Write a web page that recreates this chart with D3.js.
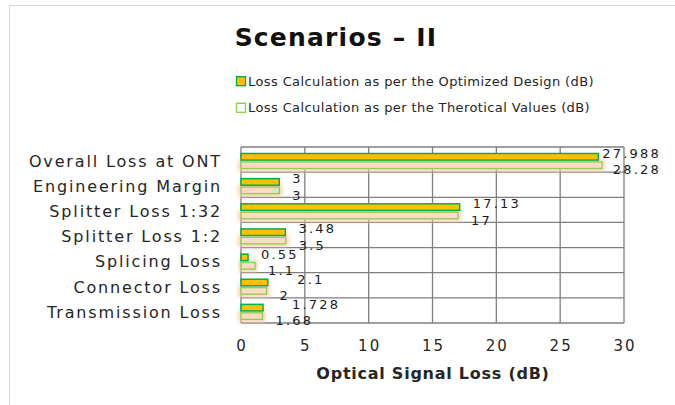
<!DOCTYPE html>
<html><head><meta charset="utf-8">
<script src="https://cdn.jsdelivr.net/npm/d3@7"></script>
<style>
html,body{margin:0;padding:0;background:#fff;}
svg{display:block;font-family:"DejaVu Sans",sans-serif;}
</style></head>
<body>
<svg id="chart" width="675" height="405"></svg>
<script>
const title = "Scenarios – II";
const categories = ["Overall Loss at ONT","Engineering Margin","Splitter Loss 1:32","Splitter Loss 1:2","Splicing Loss","Connector Loss","Transmission Loss"];
const optimized = [27.988, 3, 17.13, 3.48, 0.55, 2.1, 1.728];
const theoretical = [28.28, 3, 17, 3.5, 1.1, 2, 1.68];
const seriesNames = ["Loss Calculation as per the Optimized Design (dB)", "Loss Calculation as per the Therotical Values (dB)"];
const xTicks = [0, 5, 10, 15, 20, 25, 30];
const xTitle = "Optical Signal Loss (dB)";

const svg = d3.select("#chart");
const W = 675, H = 405;
const plot = {left: 241, right: 624, top: 147, bottom: 323};

const defs = svg.append("defs");
const glow = defs.append("filter").attr("id","glow").attr("x","-20%").attr("y","-100%").attr("width","140%").attr("height","300%");
glow.append("feMorphology").attr("in","SourceAlpha").attr("operator","dilate").attr("radius",1.5).attr("result","d");
glow.append("feGaussianBlur").attr("in","d").attr("stdDeviation",2).attr("result","b");
glow.append("feFlood").attr("flood-color","#f8c9a8").attr("flood-opacity",0.9).attr("result","c");
glow.append("feComposite").attr("in","c").attr("in2","b").attr("operator","in").attr("result","g");
const gm = glow.append("feMerge");
gm.append("feMergeNode").attr("in","g");
gm.append("feMergeNode").attr("in","SourceGraphic");

// outer frame
svg.append("path").attr("d",`M9.5,${H} L9.5,5.5 L${W},5.5`).attr("fill","none").attr("stroke","#d9d9d9").attr("stroke-width",1);

// title
svg.append("text").attr("x",336).attr("y",46).attr("text-anchor","middle")
  .attr("font-size",25).attr("font-weight","bold").attr("letter-spacing",1.2).attr("fill","#111").text(title);

// legend
const legY = [85.7, 112.3];
const legend = svg.append("g");
seriesNames.forEach((n,i)=>{
  legend.append("rect").attr("x",236.5).attr("y",legY[i]-9).attr("width",9).attr("height",9)
    .attr("fill", i===0 ? "#ffc000" : "#ffffff")
    .attr("stroke", i===0 ? "#00b050" : "#92d050").attr("stroke-width",1.4);
  legend.append("text").attr("x",248).attr("y",legY[i]).attr("font-size",13).attr("letter-spacing",0.4)
    .attr("fill","#262626").text(n);
});

const x = d3.scaleLinear().domain([0,30]).range([plot.left, plot.right]);
const y = d3.scaleBand().domain(categories).range([plot.top, plot.bottom]).paddingInner(0).paddingOuter(0);
const inner = d3.scaleBand().domain([0,1]).range([6.5, 21.5]).paddingInner(0.22);

// gridlines
const grid = svg.append("g").attr("stroke","#7f7f7f").attr("stroke-width",1.3);
grid.selectAll("line.v").data(xTicks).join("line").attr("class","v")
  .attr("x1",d=>x(d)).attr("x2",d=>x(d)).attr("y1",plot.top).attr("y2",plot.bottom);
const hb = categories.map(c=>y(c)).concat([plot.bottom]);
grid.selectAll("line.h").data(hb).join("line").attr("class","h")
  .attr("x1",plot.left).attr("x2",plot.right).attr("y1",d=>d).attr("y2",d=>d);

// bars
const rows = categories.map((c,i)=>({c, vals:[optimized[i], theoretical[i]]}));
const barG = svg.append("g");
rows.forEach(r=>{
  const g = barG.append("g").attr("transform",`translate(0,${y(r.c)})`);
  g.append("rect").attr("x",x(0)).attr("y",inner(1)).attr("width",x(r.vals[1])-x(0)).attr("height",inner.bandwidth())
    .attr("fill","#fbdcc6").attr("stroke","#92d050").attr("stroke-width",1.4).attr("filter","url(#glow)");
  g.append("rect").attr("x",x(0)).attr("y",inner(0)).attr("width",x(r.vals[0])-x(0)).attr("height",inner.bandwidth())
    .attr("fill","#ffc000").attr("stroke","#00b050").attr("stroke-width",1.5);
});

// data labels
const lblG = svg.append("g").attr("font-size",13).attr("letter-spacing",2.2).attr("fill","#1a1a1a");
const placed = [];
rows.forEach(r=>{
  r.vals.forEach((v,k)=>{
    const cy = y(r.c) + inner(k) + inner.bandwidth()/2 + (k===0 ? -3.5 : 4.5);
    const t = lblG.append("text").attr("y", cy).attr("dy","0.36em").text(String(v));
    const w = t.node().getComputedTextLength();
    let lx = x(v) + 13;
    if (lx + w > 661) lx = 661 - w;
    // avoid colliding with the label just above (previous row's lower label)
    const prev = placed[placed.length-1];
    if (prev && Math.abs(prev.cy - cy) < 14 && lx < prev.x + prev.w - 4 && lx + w > prev.x + 4) {
      lx = prev.x + prev.w + 2;
    }
    t.attr("x", lx);
    placed.push({x:lx, w, cy});
  });
});

// category labels
svg.append("g").attr("font-size",16).attr("letter-spacing",1.85).attr("fill","#262626")
  .selectAll("text").data(categories).join("text")
  .attr("x",222).attr("y",d=>y(d)+y.bandwidth()/2+1.5).attr("dy","0.36em").attr("text-anchor","end").text(d=>d);

// x axis tick labels
svg.append("g").attr("font-size",15).attr("letter-spacing",2).attr("fill","#262626")
  .selectAll("text").data(xTicks).join("text")
  .attr("x",d=>x(d)+1).attr("y",350.5).attr("text-anchor","middle").text(d=>d);

// x title
svg.append("text").attr("x",433).attr("y",379).attr("text-anchor","middle").attr("font-size",16)
  .attr("font-weight","bold").attr("letter-spacing",0.75).attr("fill","#262626").text(xTitle);
</script>
</body></html>
